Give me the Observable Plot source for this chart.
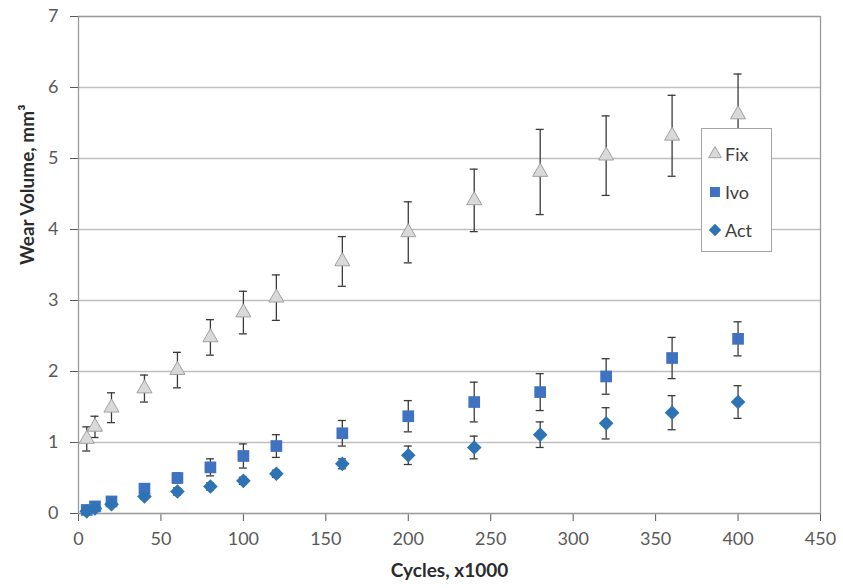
<!DOCTYPE html>
<html>
<head>
<meta charset="utf-8">
<script src="https://cdn.jsdelivr.net/npm/d3@7"></script>
<script src="https://cdn.jsdelivr.net/npm/@observablehq/plot@0.6"></script>
<style>
  body { margin: 0; background: #fff; }
  #chart { position: relative; width: 843px; height: 588px; font-family: Lato, "Open Sans", sans-serif; }
  #legend { position: absolute; left: 701px; top: 128px; width: 71px; height: 124px; background: #fff;
            border: 1px solid #a6a6a6; box-sizing: border-box; padding: 6px 0 0 5px; }
  #legend .item { display: flex; align-items: center; height: 38px; font-size: 18px; color: #404040; }
  #legend .item svg { margin-right: 2px; }
</style>
</head>
<body>
<div id="chart"></div>
<script>
// ---- data ----
const cycles  = [5, 10, 20, 40, 60, 80, 100, 120, 160, 200, 240, 280, 320, 360, 400];
const fixMean = [1.05, 1.22, 1.49, 1.76, 2.02, 2.48, 2.83, 3.04, 3.55, 3.96, 4.41, 4.81, 5.04, 5.32, 5.62];
const fixErr  = [0.17, 0.15, 0.21, 0.19, 0.25, 0.25, 0.30, 0.32, 0.35, 0.43, 0.44, 0.60, 0.56, 0.57, 0.57];
const ivoMean = [0.05, 0.10, 0.17, 0.35, 0.50, 0.65, 0.81, 0.95, 1.13, 1.37, 1.57, 1.71, 1.93, 2.19, 2.46];
const ivoErr  = [0.03, 0.04, 0.05, 0.06, 0.07, 0.12, 0.17, 0.16, 0.18, 0.22, 0.28, 0.26, 0.25, 0.29, 0.24];
const actMean = [0.03, 0.07, 0.13, 0.24, 0.31, 0.38, 0.46, 0.56, 0.70, 0.82, 0.93, 1.11, 1.27, 1.42, 1.57];
const actErr  = [0.02, 0.03, 0.03, 0.04, 0.05, 0.05, 0.05, 0.05, 0.07, 0.13, 0.16, 0.18, 0.22, 0.24, 0.23];
const seriesNames = ["Fix", "Ivo", "Act"];
const xTicks = [0, 50, 100, 150, 200, 250, 300, 350, 400, 450];
const yTicks = [0, 1, 2, 3, 4, 5, 6, 7];
const xLabel = "Cycles, x1000";
const yLabel = "Wear Volume, mm³";

const build = (name, mean, err) => cycles.map((c, i) => ({
  series: name, x: c, y: mean[i], lo: mean[i] - err[i], hi: mean[i] + err[i]
}));
const fix = build("Fix", fixMean, fixErr);
const ivo = build("Ivo", ivoMean, ivoErr);
const act = build("Act", actMean, actErr);
const all = [...fix, ...ivo, ...act];

const errColor = "#3a3a3a";
const styles = {
  Fix: {symbol: "triangle", r: 5.6, fill: "#d9d9d9", stroke: "#a0a0a0", strokeWidth: 1},
  Ivo: {symbol: "square", r: 6.6, fill: "#3f72c0"},
  Act: {symbol: "diamond2", r: 6.6, fill: "#2e74b5"}
};

const chart = Plot.plot({
  width: 843,
  height: 588,
  marginLeft: 78,
  marginRight: 23,
  marginTop: 16,
  marginBottom: 75,
  style: {fontFamily: "Lato, 'Open Sans', sans-serif", fontSize: "18px", color: "#595959", background: "#fff"},
  x: {domain: [0, 450], ticks: xTicks, tickSize: 8, tickPadding: 11, tickFormat: d3.format("d"), label: null},
  y: {domain: [0, 7], ticks: yTicks, tickSize: 8, tickPadding: 12, tickFormat: d3.format("d"), label: null},
  marks: [
    Plot.ruleY(yTicks, {stroke: "#bfbfbf", strokeWidth: 1.3}),
    Plot.frame({stroke: "#9a9a9a", strokeWidth: 1.3}),
    // error bars
    Plot.ruleX(all, {x: "x", y1: "lo", y2: "hi", stroke: errColor, strokeWidth: 1.3}),
    Plot.ruleY(all, {y: "lo", x1: "x", x2: "x", insetLeft: -4, insetRight: -4, stroke: errColor, strokeWidth: 1.3}),
    Plot.ruleY(all, {y: "hi", x1: "x", x2: "x", insetLeft: -4, insetRight: -4, stroke: errColor, strokeWidth: 1.3}),
    // markers
    Plot.dot(fix, {x: "x", y: "y", ...styles.Fix}),
    Plot.dot(ivo, {x: "x", y: "y", ...styles.Ivo}),
    Plot.dot(act, {x: "x", y: "y", ...styles.Act}),
    // axis titles
    Plot.text([xLabel], {frameAnchor: "bottom", dy: 63, fontWeight: "bold", fontSize: 19, fill: "#2b2b2b"}),
    Plot.text([yLabel], {frameAnchor: "left", dx: -51, rotate: -90, fontWeight: "bold", fontSize: 19, fill: "#2b2b2b"})
  ]
});
document.getElementById("chart").appendChild(chart);

// legend (HTML overlay, symbols drawn with d3.symbol like the marks)
const legend = document.createElement("div");
legend.id = "legend";
const symbolFor = {triangle: d3.symbolTriangle, square: d3.symbolSquare, diamond2: d3.symbolDiamond2};
for (const name of seriesNames) {
  const s = styles[name];
  const item = document.createElement("div");
  item.className = "item";
  const sz = Math.PI * (s.r * 0.85) ** 2;
  const path = d3.symbol(symbolFor[s.symbol], sz)();
  item.innerHTML = `<svg width="16" height="16" viewBox="-8 -8 16 16"><path d="${path}" fill="${s.fill}" stroke="${s.stroke || "none"}" stroke-width="${s.strokeWidth || 0}"></path></svg><span>${name}</span>`;
  legend.appendChild(item);
}
document.getElementById("chart").appendChild(legend);
</script>
</body>
</html>
